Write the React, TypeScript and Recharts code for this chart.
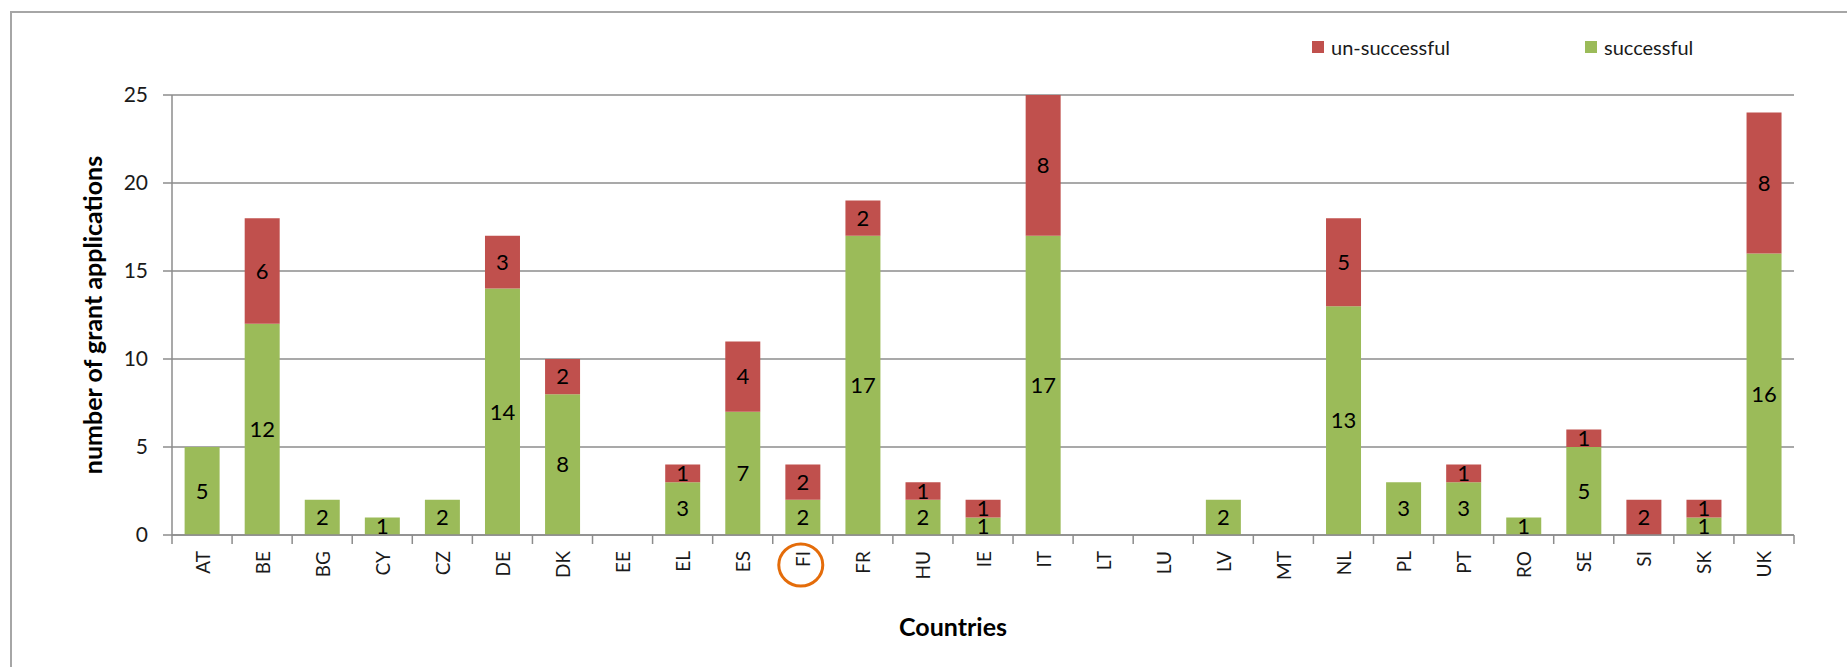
import React from 'react';
import { BarChart, Bar, XAxis, YAxis, CartesianGrid, LabelList } from 'recharts';

const countries = ['AT', 'BE', 'BG', 'CY', 'CZ', 'DE', 'DK', 'EE', 'EL', 'ES', 'FI', 'FR', 'HU', 'IE', 'IT', 'LT', 'LU', 'LV', 'MT', 'NL', 'PL', 'PT', 'RO', 'SE', 'SI', 'SK', 'UK'];
const successful = [5, 12, 2, 1, 2, 14, 8, 0, 3, 7, 2, 17, 2, 1, 17, 0, 0, 2, 0, 13, 3, 3, 1, 5, 0, 1, 16];
const unsuccessful = [0, 6, 0, 0, 0, 3, 2, 0, 1, 4, 2, 2, 1, 1, 8, 0, 0, 0, 0, 5, 0, 1, 0, 1, 2, 1, 8];
const yTicks = [0, 5, 10, 15, 20, 25];
const highlighted = 'FI';

const GREEN = '#9BBB59';
const RED = '#C0504D';
const GRID = '#8c8c8c';
const FONT = 'Lato, "Open Sans", sans-serif';

const data = countries.map((country, i) => ({
    country,
    successful: successful[i],
    unsuccessful: unsuccessful[i],
}));

const legendItems = [
    { name: 'un-successful', color: RED },
    { name: 'successful', color: GREEN },
];

// label + boundary tick marks (Excel puts tick marks between categories)
// eslint-disable-next-line @typescript-eslint/no-explicit-any
function CountryTick({ x, y, payload, width, visibleTicksCount, index }: any) {
    const half = payload.offset || width / visibleTicksCount / 2;
    const ty = y + 16;
    const isLast = index === visibleTicksCount - 1;
    return (
        <g>
            <line x1={x - half} x2={x - half} y1={y} y2={y + 9} stroke={GRID} strokeWidth={1.5} />
            {isLast && <line x1={x + half} x2={x + half} y1={y} y2={y + 9} stroke={GRID} strokeWidth={1.5} />}
            <text
                x={x}
                y={ty}
                transform={`rotate(-90 ${x} ${ty})`}
                textAnchor="end"
                dominantBaseline="central"
                fontSize={19}
                fontFamily={FONT}
                fill="#1a1a1a"
            >
                {payload.value}
            </text>
            {payload.value === highlighted && (
                <ellipse cx={x - 2} cy={ty + 14} rx={22} ry={21} fill="none" stroke="#E46C0A" strokeWidth={3} />
            )}
        </g>
    );
}

// eslint-disable-next-line @typescript-eslint/no-explicit-any
function YTitle({ viewBox }: any) {
    const cx = viewBox.x;
    const cy = viewBox.y + viewBox.height / 2;
    return (
        <text
            x={cx}
            y={cy}
            transform={`rotate(-90 ${cx} ${cy})`}
            textAnchor="middle"
            dominantBaseline="central"
            fontSize={25}
            fontWeight="bold"
            fontFamily={FONT}
            fill="#000"
        >
            number of grant applications
        </text>
    );
}

const hideZero = (v: unknown) => (v ? String(v) : '');

export default function App() {
    return (
        <div style={{ position: 'absolute', left: 0, top: 0, width: 1847, height: 667, overflow: 'hidden', background: '#fff', fontFamily: FONT }}>
            <div style={{ position: 'absolute', left: 10, top: 11, width: 1900, height: 700, border: '2px solid #a6a6a6' }} />

            {legendItems.map((item, i) => (
                <div key={item.name} style={{ position: 'absolute', left: 1312 + i * 273, top: 35, display: 'flex', alignItems: 'center', fontSize: 20, color: '#1a1a1a' }}>
                    <span style={{ width: 12, height: 12, background: item.color, marginRight: 7, display: 'inline-block' }} />
                    {item.name}
                </div>
            ))}

            <div style={{ position: 'absolute', left: 953, top: 611, transform: 'translateX(-50%)', fontSize: 25, fontWeight: 'bold', color: '#000' }}>
                Countries
            </div>

            <BarChart
                width={1847}
                height={667}
                data={data}
                margin={{ top: 95, right: 53, left: 92, bottom: 32 }}
                barCategoryGap="21%"
                style={{ position: 'absolute', left: 0, top: 0 }}
            >
                <CartesianGrid vertical={false} stroke={GRID} strokeWidth={1.5} />
                <XAxis
                    dataKey="country"
                    height={100}
                    interval={0}
                    tickLine={false}
                    axisLine={{ stroke: GRID, strokeWidth: 1.5 }}
                    tickSize={0}
                    tickMargin={0}
                    tick={<CountryTick />}
                />
                <YAxis
                    width={80}
                    domain={[0, 25]}
                    ticks={yTicks}
                    interval={0}
                    tickSize={9}
                    tickMargin={15}
                    axisLine={{ stroke: GRID, strokeWidth: 1.5 }}
                    tickLine={{ stroke: GRID, strokeWidth: 1.5 }}
                    tick={{ fontSize: 21, fontFamily: FONT, fill: '#1a1a1a' }}
                    label={{ content: <YTitle /> }}
                />
                <Bar dataKey="successful" name="successful" stackId="a" fill={GREEN} isAnimationActive={false}>
                    <LabelList dataKey="successful" position="center" formatter={hideZero} fill="#000" fontSize={22} fontFamily={FONT} />
                </Bar>
                <Bar dataKey="unsuccessful" name="un-successful" stackId="a" fill={RED} isAnimationActive={false}>
                    <LabelList dataKey="unsuccessful" position="center" formatter={hideZero} fill="#000" fontSize={22} fontFamily={FONT} />
                </Bar>
            </BarChart>
        </div>
    );
}
